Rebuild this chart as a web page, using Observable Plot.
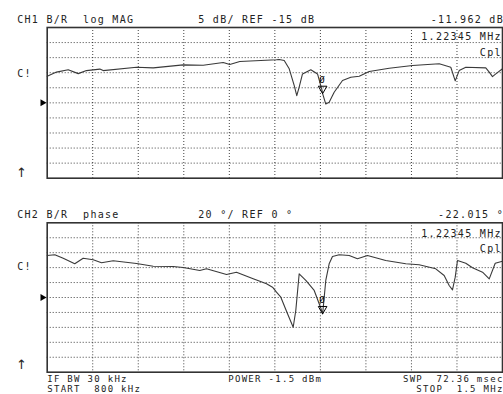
<!DOCTYPE html>
<html>
<head>
<meta charset="utf-8">
<script src="https://cdn.jsdelivr.net/npm/d3@7"></script>
<script src="https://cdn.jsdelivr.net/npm/@observablehq/plot@0.6"></script>
<style>
  html, body { margin: 0; padding: 0; background: #fff; }
  #chart { width: 503px; height: 394px; overflow: hidden; }
  #chart svg { display: block; }
</style>
</head>
<body>
<div id="chart"></div>
<script>
// ---- data ----
const startMHz = 0.8, stopMHz = 1.5;
const freqTicks = [0.87, 0.94, 1.01, 1.08, 1.15, 1.22, 1.29, 1.36, 1.43];

// CH1: log MAG (dB)
const magFreq = [0.800, 0.8143, 0.8323, 0.8477, 0.8604, 0.8809, 0.8861, 0.9373, 0.9630, 1.0091,
  1.0398, 1.0706, 1.0807, 1.0961, 1.1525, 1.1567, 1.1644, 1.1721, 1.1797, 1.1837,
  1.1874, 1.1925, 1.2053, 1.2156, 1.2222, 1.22345, 1.2283, 1.2335, 1.2412, 1.2540,
  1.2668, 1.2797, 1.2951, 1.3258, 1.3616, 1.4027, 1.4205, 1.4273, 1.4334, 1.4436,
  1.4743, 1.4796, 1.4846, 1.4897, 1.500];
const magDb = [-6.2, -4.8, -4.0, -5.3, -4.3, -3.8, -4.3, -3.2, -3.4, -2.4,
  -2.5, -1.6, -2.3, -1.3, -0.7, -0.6, -0.95, -3.7, -9.2, -12.6,
  -9.8, -5.4, -4.0, -5.4, -10.5, -11.962, -15.4, -14.8, -11.5, -7.6,
  -6.5, -6.2, -4.6, -3.5, -2.6, -2.05, -3.2, -7.7, -4.3, -3.2,
  -3.4, -4.8, -6.3, -5.4, -3.7];
const magTicks = [-35, -30, -25, -20, -15, -10, -5, 0, 5];
const magRef = -15;

// CH2: phase (degrees)
const phaseFreq = [0.800, 0.8117, 0.8246, 0.8424, 0.8553, 0.8707, 0.8835, 0.9015, 0.9373, 0.9630,
  0.9937, 1.0091, 1.0346, 1.0449, 1.0757, 1.0910, 1.1167, 1.1372, 1.1464, 1.1525,
  1.1592, 1.1695, 1.1782, 1.1822, 1.1874, 1.1976, 1.2105, 1.2206, 1.22345, 1.2283,
  1.2335, 1.2386, 1.2489, 1.2643, 1.2770, 1.2924, 1.3205, 1.3513, 1.3718, 1.3974,
  1.4103, 1.4180, 1.4231, 1.4273, 1.4308, 1.4436, 1.4539, 1.4693, 1.4796, 1.4888, 1.500];
const phaseDeg = [56.2, 57.2, 52.6, 45.1, 52.6, 50.5, 46.5, 49.1, 45.5, 41.9,
  41.5, 40.2, 36.1, 38.4, 30.8, 33.9, 25.0, 18.3, 13.8, 7.1,
  0.4, -21.8, -39.8, -17.4, 31.7, 22.8, 9.4, -14.0, -22.015, 22.8,
  45.1, 54.9, 57.2, 56.2, 51.8, 56.2, 49.5, 45.1, 43.8, 38.4,
  29.4, 16.1, 10.3, 27.2, 49.5, 45.9, 39.8, 33.9, 25.0, 45.9, 48.6];
const phaseTicks = [-80, -60, -40, -20, 0, 20, 40, 60, 80];
const phaseRef = 0;

const markerFreq = 1.22345;
const magMarker = -11.962;
const phaseMarker = -22.015;

// ---- tables ----
const magData = magFreq.map((f, i) => ({f, v: magDb[i]}));
const phaseData = phaseFreq.map((f, i) => ({f, v: phaseDeg[i]}));

const W = 503, ML = 46.7, MR = 1;
const INK = "#222";

function label(txt, X, Y, mt, anchor = "start", extra = {}) {
  return Plot.text([txt], {
    text: d => d, frameAnchor: "top-left",
    dx: X - ML, dy: Y - mt, textAnchor: anchor, lineAnchor: "bottom",
    fill: INK, ...extra
  });
}
const small = {fontSize: 9, letterSpacing: "1.9px"};
const arrow = {fontSize: 13, fontFamily: "'DejaVu Sans', sans-serif", letterSpacing: "0px"};

function panel({height, mt, mb, yDomain, yTicks, data, ref, marker, labels}) {
  return Plot.plot({
    width: W, height,
    marginLeft: ML, marginRight: MR, marginTop: mt, marginBottom: mb,
    style: {fontFamily: "'DejaVu Sans Mono', monospace", fontSize: "10px", letterSpacing: "1.3px", background: "#fff", overflow: "visible"},
    x: {domain: [startMHz, stopMHz], axis: null},
    y: {domain: yDomain, axis: null},
    marks: [
      Plot.ruleX(freqTicks, {stroke: "#000", strokeWidth: 1, strokeDasharray: "1,2", strokeOpacity: 0.75}),
      Plot.ruleY(yTicks, {stroke: "#000", strokeWidth: 1, strokeDasharray: "1,2", strokeOpacity: 0.75}),
      Plot.line(data, {x: "f", y: "v", stroke: "#3a3a3a", strokeWidth: 1.1}),
      Plot.dot([{f: markerFreq, v: marker}], {x: "f", y: "v", symbol: "triangle", rotate: 180, r: 3.2, stroke: "#000", strokeWidth: 1, fill: "none", dy: -5}),
      Plot.text([{f: markerFreq, v: marker}], {x: "f", y: "v", text: () => "Ø", dy: -14, fill: "#000", fontSize: 9}),
      Plot.dot([ref], {y: d => d, frameAnchor: "left", symbol: "triangle", rotate: 90, r: 2.6, fill: "#000", stroke: "none", dx: -4.7}),
      Plot.frame({stroke: "#333", strokeWidth: 1.6}),
      ...labels
    ]
  });
}

const mt1 = 27, mt2 = 22.3;
const magChart = panel({
  height: 200, mt: mt1, mb: 22.3, yDomain: [-40, 10], yTicks: magTicks,
  data: magData, ref: magRef, marker: magMarker,
  labels: [
    label("CH1 B/R  log MAG", 16.7, 22, mt1),
    label("5 dB/ REF -15 dB", 197.7, 22, mt1),
    label("-11.962 dB", 503.5, 22, mt1, "end"),
    label("1.22345 MHz", 501.3, 39, mt1, "end"),
    label("Cpl", 501.3, 55, mt1, "end"),
    label("C!", 16.7, 76, mt1),
    label("↑", 15.5, 176, mt1, "start", arrow)
  ]
});

const phaseChart = panel({
  height: 194, mt: mt2, mb: 22.3, yDomain: [-100, 100], yTicks: phaseTicks,
  data: phaseData, ref: phaseRef, marker: phaseMarker,
  labels: [
    label("CH2 B/R  phase", 16.7, 17, mt2),
    label("20 °/ REF 0 °", 197.7, 17, mt2),
    label("-22.015 °", 503.5, 17, mt2, "end"),
    label("1.22345 MHz", 501.3, 36.7, mt2, "end"),
    label("Cpl", 501.3, 51, mt2, "end"),
    label("C!", 16.7, 69.3, mt2),
    label("↑", 15.5, 168.3, mt2, "start", arrow),
    label("IF BW 30 kHz", 46.7, 181.6, mt2, "start", small),
    label("START  800 kHz", 46.7, 191, mt2, "start", small),
    label("POWER -1.5 dBm", 227.7, 181.6, mt2, "start", small),
    label("SWP  72.36 msec", 503.2, 181.6, mt2, "end", small),
    label("STOP  1.5 MHz", 503.2, 191, mt2, "end", small)
  ]
});

document.getElementById("chart").append(magChart, phaseChart);
</script>
</body>
</html>
